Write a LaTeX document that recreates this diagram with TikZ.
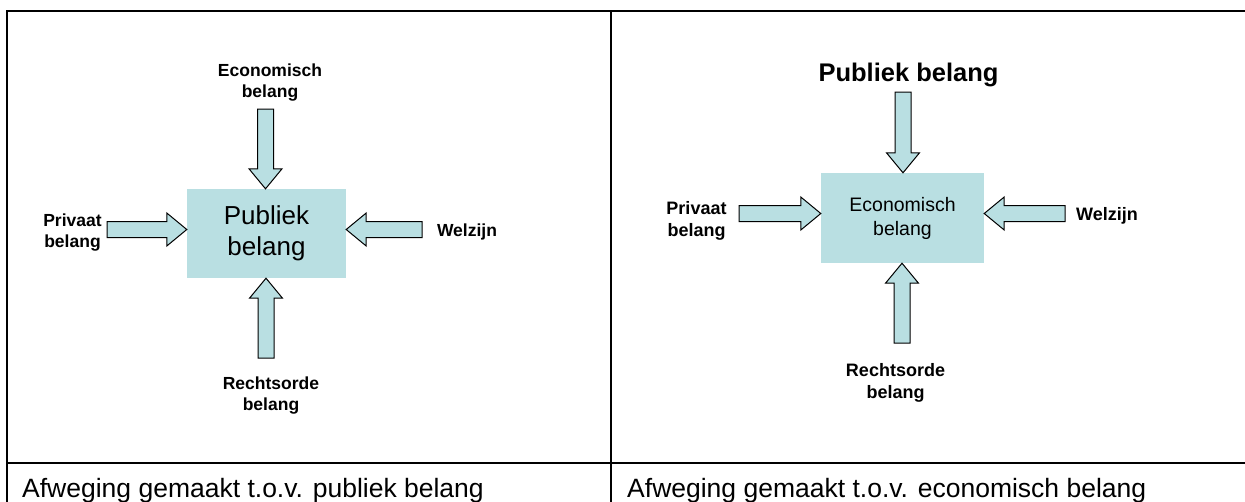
\documentclass[tikz,border=0pt]{standalone}
\usepackage{fontspec}
\setmainfont{Liberation Sans}
\usetikzlibrary{calc}
\definecolor{paleblue}{RGB}{185,223,226}

% block arrow from a tail coordinate to a tip coordinate
\newcommand\blockarr[2]{%
  \draw[blockarrow] (#2)
    -- ($(#2)!20pt!(#1)!16.5pt!90:(#2)$)
    -- ($(#2)!20pt!(#1)!8pt!90:(#2)$)
    -- ($(#1)!8pt!90:(#2)$)
    -- ($(#1)!8pt!-90:(#2)$)
    -- ($(#2)!20pt!(#1)!8pt!-90:(#2)$)
    -- ($(#2)!20pt!(#1)!16.5pt!-90:(#2)$)
    -- cycle;}

\tikzset{
  rule/.style={line width=2pt, black, line cap=rect},
  centrebox/.style={fill=paleblue, inner sep=0pt, align=center},
  blockarrow/.style={draw=black, fill=paleblue, line width=1pt, line join=miter},
  tagA/.style={font=\bfseries\fontsize{17.5}{21}\selectfont, align=center, inner sep=0pt},
  tagB/.style={font=\bfseries\fontsize{18}{22}\selectfont, align=center, inner sep=0pt},
  caption/.style={font=\fontsize{26.5}{30}\selectfont, inner sep=0pt, anchor=base west},
}

\begin{document}
\begin{tikzpicture}[x=1pt, y=-1pt]
\useasboundingbox (0,0) rectangle (1245,501);

% table rules
\draw[rule] (7,11) -- (1246,11);
\draw[rule] (7,463) -- (1246,463);
\draw[rule] (7,11) -- (7,502);
\draw[rule] (610.5,11) -- (610.5,502);

% ---- left cell: weighing against the public interest
\node[centrebox, minimum width=159pt, minimum height=89pt,
      font=\fontsize{26}{31}\selectfont] (bx1) at (266.5,233.5) {Publiek\\belang};
\node[tagA] (e1) at (270,83) {Economisch\\belang};
\node[tagA] (p1) at (72.5,232.3) {Privaat\\belang};
\node[tagA] (w1) at (467,231.8) {Welzijn};
\node[tagA] (r1) at (271,395.4) {Rechtsorde\\belang};

\coordinate (e1t) at (265.5,109);
\coordinate (p1t) at (107,229.5);
\coordinate (w1t) at (422,229.5);
\coordinate (r1t) at (266,358);

\blockarr{e1t}{e1t |- bx1.north}
\blockarr{p1t}{bx1.west |- p1t}
\blockarr{w1t}{bx1.east |- w1t}
\blockarr{r1t}{r1t |- bx1.south}

\node[caption] (c1) at (22,497) {Afweging gemaakt t.o.v. publiek belang};

% ---- right cell: weighing against the economic interest
\node[centrebox, minimum width=163pt, minimum height=90pt,
      font=\fontsize{19.5}{24}\selectfont] (bx2) at (902.5,218) {Economisch\\belang};
\node[font=\bfseries\fontsize{25.5}{30}\selectfont, inner sep=0pt] (e2) at (908.5,75.2) {Publiek belang};
\node[tagB] (p2) at (696.5,220.9) {Privaat\\belang};
\node[tagB] (w2) at (1107,215.9) {Welzijn};
\node[tagB] (r2) at (895.5,382.4) {Rechtsorde\\belang};

\coordinate (e2t) at (903,92);
\coordinate (p2t) at (739,213.5);
\coordinate (w2t) at (1065,213.5);
\coordinate (r2t) at (902,343);

\blockarr{e2t}{e2t |- bx2.north}
\blockarr{p2t}{bx2.west |- p2t}
\blockarr{w2t}{bx2.east |- w2t}
\blockarr{r2t}{r2t |- bx2.south}

\node[caption] (c2) at (627,497) {Afweging gemaakt t.o.v. economisch belang};
\end{tikzpicture}
\end{document}
